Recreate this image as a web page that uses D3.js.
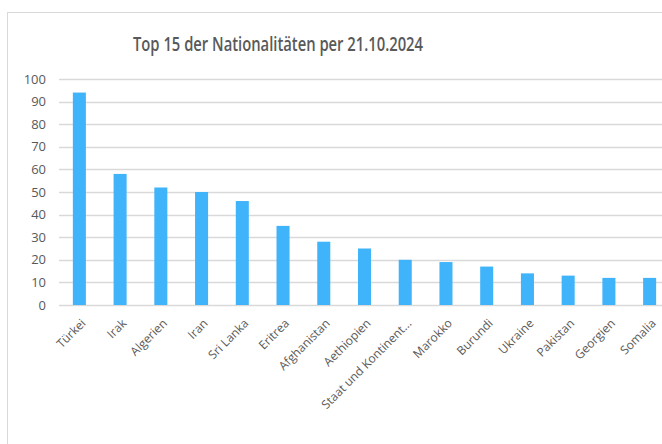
<!DOCTYPE html>
<html>
<head>
<meta charset="utf-8">
<script src="https://cdn.jsdelivr.net/npm/d3@7"></script>
<style>
  body { margin: 0; background: #fff; }
  svg { display: block; }
</style>
</head>
<body>
<div class="datavis"><svg></svg></div>
<script>
// data
var laender = ["Türkei", "Irak", "Algerien", "Iran", "Sri Lanka", "Eritrea", "Afghanistan",
  "Aethiopien", "Staat und Kontinent...", "Marokko", "Burundi", "Ukraine", "Pakistan",
  "Georgien", "Somalia"]
var anzahl = [94, 58, 52, 50, 46, 35, 28, 25, 20, 19, 17, 14, 13, 12, 12]
var yTicks = [0, 10, 20, 30, 40, 50, 60, 70, 80, 90, 100]
var titel = "Top 15 der Nationalitäten per 21.10.2024"

var width = 662
var height = 444
var margin = { top: 79, right: -8, bottom: 139, left: 59 }

var data = laender.map((d, i) => ({ land: d, val: anzahl[i] }))

var svg = d3.select(".datavis > svg")
  .attr("width", width)
  .attr("height", height)
  .attr("viewBox", [0, 0, width, height])
  .style("font-family", "'Open Sans', sans-serif")

// chart area border
svg.append("rect")
  .attr("x", 7.5).attr("y", 12.5)
  .attr("width", width + 20).attr("height", height + 20)
  .attr("fill", "none")
  .attr("stroke", "#d9d9d9")

var x = d3.scaleBand()
  .domain(laender)
  .range([margin.left, width - margin.right])
  .paddingInner(0.68)
  .paddingOuter(0.34)

var y = d3.scaleLinear()
  .domain([0, 100])
  .range([height - margin.bottom, margin.top])

// gridlines
svg.append("g").attr("class", "grid")
  .selectAll("line")
  .data(yTicks)
  .join("line")
  .attr("x1", margin.left)
  .attr("x2", width)
  .attr("y1", d => Math.round(y(d)) + 0.5)
  .attr("y2", d => Math.round(y(d)) + 0.5)
  .attr("stroke", "#d9d9d9")
  .attr("stroke-width", 1.3)

// y axis labels
var yAxis = g => g
  .attr("transform", `translate(${margin.left},0)`)
  .call(d3.axisLeft(y).tickValues(yTicks).tickSize(0).tickPadding(13))
  .call(g => g.select(".domain").remove())
  .call(g => g.selectAll("text")
    .attr("fill", "#595959")
    .style("font-size", "13px")
    .style("font-family", "'Open Sans', sans-serif"))

svg.append("g").attr("class", "yaxis").call(yAxis)

// bars
svg.append("g").attr("class", "bars")
  .attr("fill", "#3fb4fa")
  .selectAll("rect")
  .data(data)
  .join("rect")
  .attr("x", d => x(d.land))
  .attr("y", d => y(d.val))
  .attr("width", x.bandwidth())
  .attr("height", d => y(0) - y(d.val))

// x axis labels, rotated
var xAxis = g => g
  .attr("transform", `translate(0,${height - margin.bottom})`)
  .call(d3.axisBottom(x).tickSize(0).tickPadding(0))
  .call(g => g.select(".domain").remove())
  .call(g => g.selectAll("text")
    .attr("fill", "#595959")
    .style("font-size", "12px")
    .style("font-family", "'Open Sans', sans-serif")
    .attr("text-anchor", "end")
    .attr("dy", "0")
    .attr("transform", "translate(7,19) rotate(-45)"))

svg.append("g").attr("class", "xaxis").call(xAxis)

// title
svg.append("text")
  .attr("x", 278)
  .attr("y", 51)
  .attr("text-anchor", "middle")
  .attr("fill", "#595959")
  .style("font-size", "20px")
  .style("font-weight", "600")
  .attr("textLength", 290)
  .attr("lengthAdjust", "spacingAndGlyphs")
  .text(titel)
</script>
</body>
</html>
